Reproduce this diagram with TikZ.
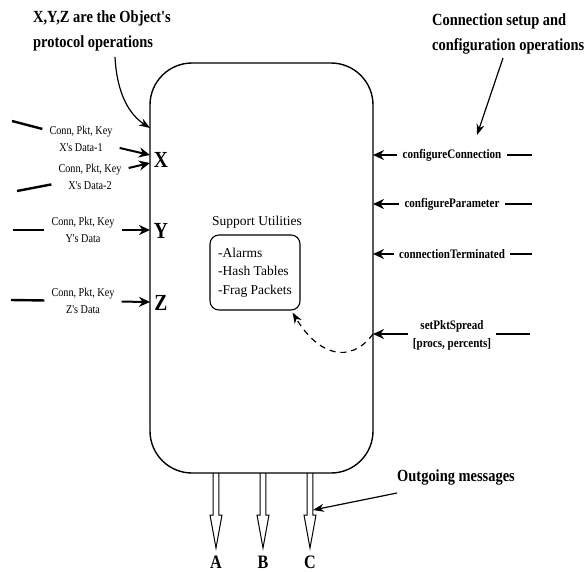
\documentclass[tikz,border=0pt]{standalone}
\usepackage{fontspec}
\setmainfont{Liberation Serif}
\newfontfamily\narrowfont[FakeStretch=0.85]{Liberation Serif}
\usetikzlibrary{arrows.meta}

\tikzset{
  heading/.style={font=\narrowfont\bfseries\fontsize{17}{25}\selectfont, align=left, inner sep=0pt},
  oplabel/.style={font=\narrowfont\bfseries\fontsize{13}{18}\selectfont, align=center, inner xsep=5pt, inner ysep=0pt},
  datalabel/.style={font=\narrowfont\fontsize{12}{16.5}\selectfont, align=center, inner xsep=7pt, inner ysep=0pt},
  portlabel/.style={font=\narrowfont\bfseries\fontsize{23}{23}\selectfont, inner sep=0pt},
  msglabel/.style={font=\narrowfont\bfseries\fontsize{19}{19}\selectfont, inner sep=0pt},
  feed/.style={line width=2pt, -{Stealth[length=11pt,width=10pt]}},
  stub/.style={line width=2.4pt},
  pointer/.style={line width=1.2pt, -{Stealth[length=11pt,width=8pt]}},
}

\begin{document}
\begin{tikzpicture}[x=1pt, y=-1pt]
\useasboundingbox (0,0) rectangle (585,571);
  % The object
  \node[draw, line width=1.4pt, rounded corners=42pt, minimum width=223pt,
        minimum height=410pt, inner sep=0pt] (obj) at (261.5,268) {};
  % Annotations
  \node[heading, anchor=west] (protohead) at (33,31) {X,Y,Z are the Object's\\protocol operations};
  \node[heading, anchor=west] (cfghead) at (432,34) {Connection setup and\\configuration operations};
  \coordinate (prototail) at (115,57);
  \coordinate (prototip) at (150,128);
  \coordinate (cfgtail) at (503,58);
  \coordinate (cfgtip) at (477,135);
  \draw[pointer] (prototail) .. controls (117,95) and (130,115) .. (prototip);
  \draw[pointer] (cfgtail) -- (cfgtip);

  % Protocol operations (left side)
  \node[portlabel] (portX) at (161,160) {X};
  \node[portlabel] (portY) at (161,231) {Y};
  \node[portlabel] (portZ) at (161,303) {Z};
  \coordinate (inX1) at (150,155);
  \coordinate (inX2) at (150,163);
  \coordinate (inY) at (150,230);
  \coordinate (inZ) at (150,302);
  \node[datalabel] (dataX1) at (81,139) {Conn, Pkt, Key\\X's Data-1};
  \node[datalabel] (dataX2) at (90,177) {Conn, Pkt, Key\\X's Data-2};
  \node[datalabel] (dataY) at (83,230) {Conn, Pkt, Key\\Y's Data};
  \node[datalabel] (dataZ) at (83,301) {Conn, Pkt, Key\\Z's Data};
  \coordinate (srcX1) at (12,121);
  \coordinate (srcX2) at (17,191);
  \coordinate (srcY) at (13,230);
  \coordinate (srcZ) at (11,300);
  \foreach \n in {X1,X2,Y,Z}{
    \draw[stub] (src\n) -- (data\n);
    \draw[feed] (data\n) -- (in\n);
  }

  % Configuration operations (right side)
  \node[oplabel] (opConn) at (452,155) {configureConnection};
  \node[oplabel] (opParam) at (452,204) {configureParameter};
  \node[oplabel] (opTerm) at (452,254) {connectionTerminated};
  \node[oplabel] (opSpread) at (452,335) {setPktSpread\\{[procs, percents]}};
  \coordinate (inConn) at (373,155);
  \coordinate (inParam) at (373,204);
  \coordinate (inTerm) at (373,254);
  \coordinate (inSpread) at (373,334);
  \coordinate (srcConn) at (532,155);
  \coordinate (srcParam) at (532,204);
  \coordinate (srcTerm) at (532,254);
  \coordinate (srcSpread) at (530,334);
  \foreach \n in {Conn,Param,Term,Spread}{
    \draw[stub] (src\n) -- (op\n.east |- src\n);
    \draw[feed] (op\n.west |- in\n) -- (in\n);
  }

  % Support utilities
  \node[font=\fontsize{13.5}{18.5}\selectfont, inner sep=0pt] (utiltitle) at (257,222) {Support Utilities};
  \node[draw, line width=1.1pt, rounded corners=9pt, align=left, minimum width=90pt,
        minimum height=75pt, font=\fontsize{13.5}{18.5}\selectfont] (util) at (255,272.5)
        {-Alarms\\-Hash Tables\\-Frag Packets};
  \draw[line width=1.2pt, dash pattern=on 6pt off 5pt, -{Stealth[length=11pt,width=8pt]}]
    (inSpread) .. controls (350,365) and (318,355) .. ([xshift=-8pt,yshift=-2pt]util.south east);

  % Outgoing messages
  \foreach \x/\n in {216/A,263/B,310/C}{
    \draw[line width=1pt] (\x-2.8,473) -- (\x-2.8,515) -- (\x-6,515) -- (\x,548)
      -- (\x+6,515) -- (\x+2.8,515) -- (\x+2.8,473);
    \node[msglabel, anchor=base] (out\n) at (\x,568) {\n};
  }
  \node[heading, anchor=west] (outhead) at (397,477) {Outgoing messages};
  \coordinate (outtail) at (397,493);
  \coordinate (outtip) at (313,510);
  \draw[pointer] (outtail) -- (outtip);
\end{tikzpicture}
\end{document}
